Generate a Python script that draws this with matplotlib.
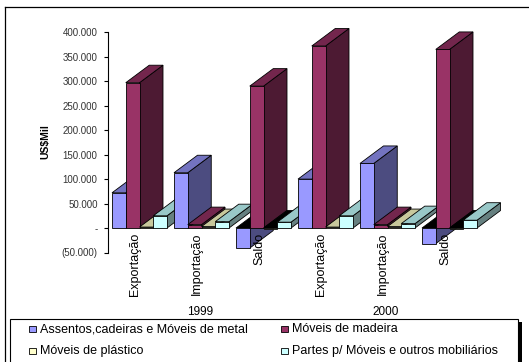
import matplotlib
matplotlib.use("Agg")
import matplotlib.pyplot as plt
from matplotlib.patches import Polygon, Rectangle
from matplotlib.ticker import FuncFormatter
import matplotlib.transforms as mtransforms

plt.rcParams['font.family'] = ['Liberation Sans', 'DejaVu Sans']

# ---------------- data ----------------
categories = ['Exportação', 'Importação', 'Saldo', 'Exportação', 'Importação', 'Saldo']
years = ['1999', '2000']
series_names = ['Assentos,cadeiras e Móveis de metal', 'Móveis de madeira',
                'Móveis de plástico', 'Partes p/ Móveis e outros mobiliários']
metal = [72000, 113000, -41000, 100000, 132000, -32000]
wood = [297000, 7000, 290000, 372000, 7000, 365000]
plastic = [2000, 3000, -1000, 2000, 3000, -1000]
parts = [25000, 13000, 12000, 25000, 9000, 16000]
y_ticks = [-50000, 0, 50000, 100000, 150000, 200000, 250000, 300000, 350000, 400000]

# colours (front, top, side)
colors = [
    ('#9999FF', '#7373C0', '#4C4C80'),
    ('#993366', '#73264D', '#4D1A33'),
    ('#FFFFCC', '#C8C89C', '#808066'),
    ('#CCFFFF', '#99C8C8', '#668080'),
]

W, H = 529, 362
fig = plt.figure(figsize=(W / 100, H / 100), dpi=100)

# overlay axes in pixel coordinates for frame & legend
ov = fig.add_axes([0, 0, 1, 1], zorder=0)
ov.set_xlim(0, W)
ov.set_ylim(H, 0)
ov.axis('off')

# main axes: pixel x 108..480, y 32.3..252.5
px_left, px_right = 108, 480
px_top, px_bot = 32.3, 252.5
ymin, ymax = -50000, 400000
ax = fig.add_axes([px_left / W, (H - px_bot) / H, (px_right - px_left) / W, (px_bot - px_top) / H],
                  zorder=1)
ax.set_facecolor('none')
ax.set_xlim(0, 6)
ax.set_ylim(ymin, ymax)

group_px = (px_right - px_left) / 6.0
val_per_px = (ymax - ymin) / (px_bot - px_top)
bar_w = 13.75 / group_px
offset = 4.0 / group_px
dx = 23.5 / group_px
dy = 17.5 * val_per_px

lw = 0.6
all_series = [metal, wood, plastic, parts]


def bar3d(x0, v, cols):
    front_c, top_c, side_c = cols
    kw = dict(edgecolor='black', linewidth=lw, clip_on=False, joinstyle='miter')
    if v >= 0:
        side = [(x0 + bar_w, 0), (x0 + bar_w, v), (x0 + bar_w + dx, v + dy), (x0 + bar_w + dx, dy)]
        top = [(x0, v), (x0 + bar_w, v), (x0 + bar_w + dx, v + dy), (x0 + dx, v + dy)]
        ax.add_patch(Polygon(side, closed=True, facecolor=side_c, **kw))
        ax.add_patch(Polygon(top, closed=True, facecolor=top_c, **kw))
        ax.add_patch(Rectangle((x0, 0), bar_w, v, facecolor=front_c, **kw))
    else:
        side = [(x0 + bar_w, v), (x0 + bar_w, 0), (x0 + bar_w + dx, dy), (x0 + bar_w + dx, v + dy)]
        top = [(x0, 0), (x0 + bar_w, 0), (x0 + bar_w + dx, dy), (x0 + dx, dy)]
        ax.add_patch(Polygon(side, closed=True, facecolor=side_c, **kw))
        ax.add_patch(Polygon(top, closed=True, facecolor='black', **kw))
        ax.add_patch(Rectangle((x0, v), bar_w, -v, facecolor=front_c, **kw))


for g in range(len(categories)):
    for i, s in enumerate(all_series):
        x0 = g + offset + i * bar_w
        bar3d(x0, s[g], colors[i])

# axes styling
for sp in ['top', 'right', 'bottom']:
    ax.spines[sp].set_visible(False)
ax.spines['left'].set_linewidth(0.8)
ax.set_yticks(y_ticks)
ax.set_xticks([])


def fmt(v, pos):
    if v == 0:
        return '-'
    s = f"{abs(int(round(v))):,}".replace(',', '.')
    return f"({s})" if v < 0 else s


ax.yaxis.set_major_formatter(FuncFormatter(fmt))
ax.tick_params(axis='y', length=3, width=0.8, pad=4.5, labelsize=7, labelcolor='#333333')

# y label
ov.text(45, 142, 'US$Mil', rotation=90, ha='center', va='center', fontsize=7.5, fontweight='bold')

# category labels
trans = mtransforms.blended_transform_factory(ax.transData, ov.transData)
for g, c in enumerate(categories):
    ax.text(g + 0.44, 232.5, c, rotation=90, ha='center', va='top', fontsize=9,
            transform=trans)
for k, y in enumerate(years):
    ax.text(1.48 + 3 * k, 312, y, ha='center', va='center', fontsize=8.5, transform=trans)

# outer frame
ov.plot([5, W], [7.3, 7.3], color='black', lw=0.9, clip_on=False)
ov.plot([5, 5], [7.3, H], color='black', lw=0.9, clip_on=False)

# legend box with shadow
ov.add_patch(Rectangle((518, 322), 3.5, H - 322 + 2, facecolor='black', edgecolor='none'))
ov.add_patch(Rectangle((10, 319), 508, H - 319 + 5, facecolor='white', edgecolor='black', lw=0.8))

leg_pos = [(29, 329), (281, 329), (29, 351), (281, 351)]
for i, name in enumerate(series_names):
    mx, my = leg_pos[i]
    ov.add_patch(Rectangle((mx, my - 3.2), 6.5, 6.5, facecolor=colors[i][0], edgecolor='black', lw=0.6))
    ov.text(mx + 10.5, my, name, ha='left', va='center', fontsize=9)

fig.savefig('out.png', dpi=100)
